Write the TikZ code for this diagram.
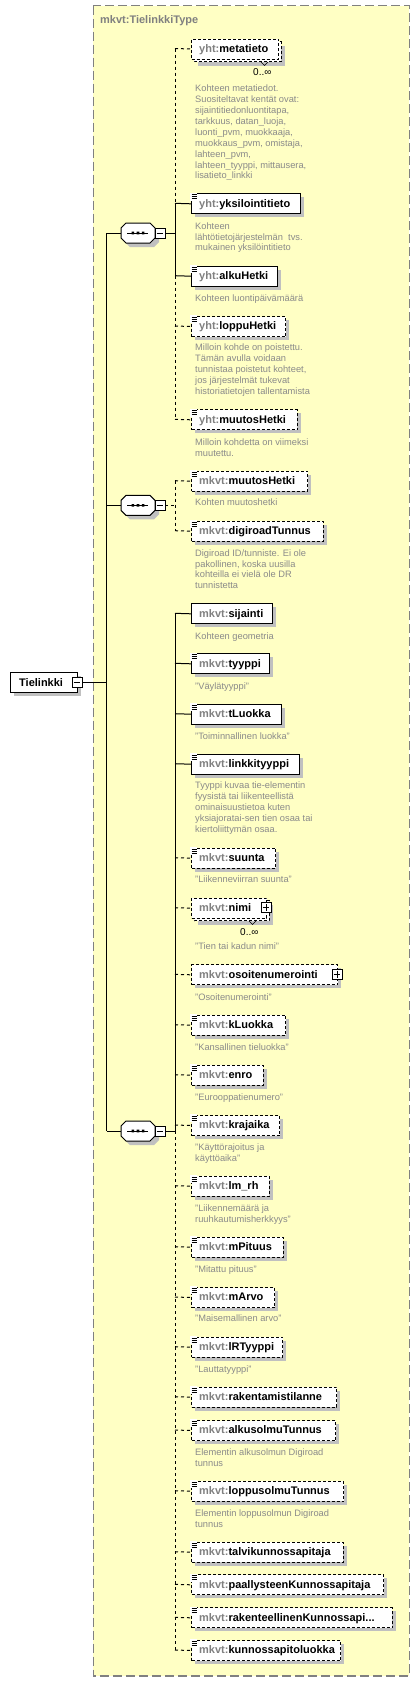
\documentclass[tikz,border=0pt]{standalone}
\usepackage{fontspec}
\setmainfont{Liberation Sans}
\definecolor{bgy}{HTML}{FFFFC4}
\definecolor{brd}{HTML}{808080}
\definecolor{shadowc}{HTML}{C0C0C0}
\definecolor{pfxc}{HTML}{808080}
\definecolor{docc}{HTML}{8A8A8A}
\tikzset{
  reqbox/.style={draw=black,line width=1pt,fill=white},
  optbox/.style={draw=black,line width=1pt,fill=white,dash pattern=on 3pt off 2pt},
  elbox/.style={anchor=north west,minimum height=20pt,inner sep=0pt},
  eltext/.style={anchor=base west,inner sep=0pt,font=\bfseries\fontsize{11}{13}\selectfont},
  doctext/.style={anchor=north west,inner sep=0pt,align=left,text=docc,font=\fontsize{9.3}{10.9}\selectfont},
  multtext/.style={anchor=base west,inner sep=0pt,font=\fontsize{10}{12}\selectfont},
  lnsolid/.style={line width=1pt},
  lndash/.style={line width=1pt,dash pattern=on 3pt off 3pt},
  pmbox/.style={draw,fill=white,line width=0.8pt,minimum size=10pt,inner sep=0pt},
  seqhit/.style={minimum width=34pt,minimum height=20pt,inner sep=0pt},
}
% element box: name, ytop, right, prefix, local name, style
\newcommand\xel[6]{%
  \fill[shadowc] (195,#2+4) rectangle (#3+4,#2+24);
  \node[elbox,#6,minimum width=#3-191] (#1) at (191,#2) {};
  \node[eltext] (#1t) at (199,#2+13.8) {\textcolor{pfxc}{#4:}#5};
}
% double (unbounded) element: name, ytop, right, prefix, local
\newcommand\xdbl[5]{%
  \fill[shadowc] (198,#2+7) rectangle (#3+7,#2+27);
  \draw[optbox] (194,#2+3) rectangle (#3+3,#2+23);
  \node[elbox,optbox,minimum width=#3-191] (#1) at (191,#2) {};
  \node[eltext] (#1t) at (199,#2+13.8) {\textcolor{pfxc}{#4:}#5};
}
\newcommand\xicon[1]{%
  \fill[white] (190.3,#1-0.6) rectangle (197.2,#1+7.2);
  \draw[line width=0.9pt] (191.5,#1+1.6) -- (196.8,#1+1.6) (191.5,#1+3.6) -- (196.8,#1+3.6) (191.5,#1+5.6) -- (196.8,#1+5.6);
}
\newcommand\xminus[3]{%
  \node[pmbox] (#1) at (#2,#3) {};
  \draw[line width=0.8pt] ([xshift=2pt]#1.west) -- ([xshift=-2pt]#1.east);
}
\newcommand\xplus[3]{%
  \node[pmbox] (#1) at (#2,#3) {};
  \draw[line width=0.8pt] ([xshift=2pt]#1.west) -- ([xshift=-2pt]#1.east) ([yshift=-2pt]#1.north) -- ([yshift=2pt]#1.south);
}
% sequence compositor: name, cx, cy
\newcommand\xseq[3]{%
  \fill[shadowc,shift={(#2+4,#3+4)}] (-12,-10) -- (12,-10) -- (17,-5) -- (17,5) -- (12,10) -- (-12,10) -- (-17,5) -- (-17,-5) -- cycle;
  \node[seqhit] (#1) at (#2,#3) {};
  \draw[line width=1pt,fill=white,shift={(#2,#3)}] (-12,-10) -- (12,-10) -- (17,-5) -- (17,5) -- (12,10) -- (-12,10) -- (-17,5) -- (-17,-5) -- cycle;
  \draw[line width=1pt,shift={(#2,#3)}] (-11,0) -- (10,0);
  \fill[shift={(#2,#3)}] (-6.4,-1.3) rectangle (-3.8,1.3) (-1.3,-1.3) rectangle (1.3,1.3) (3.8,-1.3) rectangle (6.4,1.3);
  \xminus{#1m}{#2+22}{#3}
}
\begin{document}
\begin{tikzpicture}[x=1pt,y=-1pt]
\useasboundingbox (0,0) rectangle (420,1682);
% outer type box
\draw[brd,fill=bgy,line width=1.2pt,dash pattern=on 9pt off 4pt] (93.3,5.7) rectangle (409.3,1676);
\node[anchor=base west,inner sep=0pt,text=brd,font=\bfseries\fontsize{11}{13}\selectfont] (title) at (100,23.3) {mkvt:TielinkkiType};

% root element
\fill[shadowc] (14,676) rectangle (81,696);
\node[reqbox,elbox,minimum width=67pt] (root) at (10,672) {};
\node[eltext] (roott) at (19,686) {Tielinkki};
\xminus{rootm}{77}{682}

% compositors
\xseq{s1}{138}{233}
\xseq{s2}{138}{505.3}
\xseq{s3}{138}{1131}

% main connectors
\coordinate (mt) at (106.7,233);
\coordinate (mm) at (106.7,682);
\coordinate (m2) at (106.7,505.3);
\coordinate (mb) at (106.7,1131);
\draw[lnsolid] (rootm.east) -- (mm);
\draw[lnsolid] (mt) -- (mb);
\draw[lnsolid] (mt) -- (s1.west);
\draw[lnsolid] (m2) -- (s2.west);
\draw[lnsolid] (mb) -- (s3.west);

% ---- group 1 ----
\xdbl{e1}{38.5}{278}{yht}{metatieto}
\draw[line width=0.6pt] (261,62) -- (264.5,65.5) -- (268,62);
\node[multtext] (mult1) at (253,75.7) {0..∞};
\node[doctext] (d1) at (195,84.8) {Kohteen metatiedot.\\Suositeltavat kentät ovat:\\sijaintitiedonluontitapa,\\tarkkuus, datan\_luoja,\\luonti\_pvm, muokkaaja,\\muokkaus\_pvm, omistaja,\\lahteen\_pvm,\\lahteen\_tyyppi, mittausera,\\lisatieto\_linkki};
\xel{e2}{193.3}{300}{yht}{yksilointitieto}{reqbox}\xicon{193.3}
\node[doctext] (d2) at (195,222.2) {Kohteen\\lähtötietojärjestelmän\ \ tvs.\\mukainen yksilöintitieto};
\xel{e3}{265.7}{276.7}{yht}{alkuHetki}{reqbox}\xicon{265.7}
\node[doctext] (d3) at (195,294.2) {Kohteen luontipäivämäärä};
\xel{e4}{316}{285}{yht}{loppuHetki}{optbox}\xicon{316}
\node[doctext] (d4) at (195,343.5) {Milloin kohde on poistettu.\\Tämän avulla voidaan\\tunnistaa poistetut kohteet,\\jos järjestelmät tukevat\\historiatietojen tallentamista};
\xel{e5}{409.3}{296.7}{yht}{muutosHetki}{optbox}\xicon{409.3}
\node[doctext] (d5) at (195,438.5) {Milloin kohdetta on viimeksi\\muutettu.};

\coordinate (b1) at (175,48.5);
\coordinate (b2) at (175,203.3);
\coordinate (b3) at (175,275.7);
\coordinate (b4) at (175,326);
\coordinate (b5) at (175,419.3);
\coordinate (j1) at (175,233);
\draw[lndash] (b1) -- (b2);
\draw[lnsolid] (b2) -- (b3);
\draw[lndash] (b3) -- (b5);
\draw[lnsolid] (s1m.east) -- (j1);
\draw[lndash] (b1) -- (e1.west);
\draw[lnsolid] (b2) -- (e2.west);
\draw[lnsolid] (b3) -- (e3.west);
\draw[lndash] (b4) -- (e4.west);
\draw[lndash] (b5) -- (e5.west);

% ---- group 2 ----
\xel{e6}{470.7}{307}{mkvt}{muutosHetki}{optbox}\xicon{470.7}
\node[doctext] (d6) at (195,498.8) {Kohten muutoshetki};
\xel{e7}{520.7}{322.7}{mkvt}{digiroadTunnus}{optbox}\xicon{520.7}
\node[doctext] (d7) at (195,549.2) {Digiroad ID/tunniste. Ei ole\\pakollinen, koska uusilla\\kohteilla ei vielä ole DR\\tunnistetta};
\coordinate (b6) at (175,480.7);
\coordinate (b7) at (175,530.7);
\coordinate (j2) at (175,505.3);
\draw[lndash] (b6) -- (b7);
\draw[lndash] (s2m.east) -- (j2);
\draw[lndash] (b6) -- (e6.west);
\draw[lndash] (b7) -- (e7.west);

% ---- group 3 ----
\xel{e8}{603.3}{272.3}{mkvt}{sijainti}{reqbox}
\node[doctext] (d8) at (195,632.2) {Kohteen geometria};
\xel{e9}{653.3}{269}{mkvt}{tyyppi}{reqbox}\xicon{653.3}
\node[doctext] (d9) at (195,682.5) {"Väylätyyppi"};
\xel{e10}{703.7}{281}{mkvt}{tLuokka}{reqbox}\xicon{703.7}
\node[doctext] (d10) at (195,732.2) {"Toiminnallinen luokka"};
\xel{e11}{753.7}{299.3}{mkvt}{linkkityyppi}{reqbox}\xicon{753.7}
\node[doctext] (d11) at (195,781.8) {Tyyppi kuvaa tie-elementin\\fyysistä tai liikenteellistä\\ominaisuustietoa kuten\\yksiajoratai-sen tien osaa tai\\kiertoliittymän osaa.};
\xel{e12}{847.7}{275}{mkvt}{suunta}{optbox}\xicon{847.7}
\node[doctext] (d12) at (195,875.8) {"Liikenneviirran suunta"};
\xdbl{e13}{897.7}{266}{mkvt}{nimi}
\xplus{e13p}{266}{907.7}
\draw[line width=0.6pt] (249,921) -- (252.5,924.5) -- (256,921);
\node[multtext] (mult13) at (240,935.3) {0..∞};
\node[doctext] (d13) at (195,942.5) {"Tien tai kadun nimi"};
\xel{e14}{964.3}{337}{mkvt}{osoitenumerointi}{optbox}
\xplus{e14p}{337}{974.3}
\node[doctext] (d14) at (195,993.2) {"Osoitenumerointi"};
\xel{e15}{1014.7}{285}{mkvt}{kLuokka}{optbox}\xicon{1014.7}
\node[doctext] (d15) at (195,1043.2) {"Kansallinen tieluokka"};
\xel{e16}{1064.7}{262.7}{mkvt}{enro}{optbox}\xicon{1064.7}
\node[doctext] (d16) at (195,1093.2) {"Eurooppatienumero"};
\xel{e17}{1115}{279.3}{mkvt}{krajaika}{optbox}\xicon{1115}
\node[doctext] (d17) at (195,1143.2) {"Käyttörajoitus ja\\käyttöaika"};
\xel{e18}{1175.7}{268.7}{mkvt}{lm\_rh}{optbox}\xicon{1175.7}
\node[doctext] (d18) at (195,1204.2) {"Liikennemäärä ja\\ruuhkautumisherkkyys"};
\xel{e19}{1236.7}{282.7}{mkvt}{mPituus}{optbox}\xicon{1236.7}
\node[doctext] (d19) at (195,1265.5) {"Mitattu pituus"};
\xel{e20}{1287}{274}{mkvt}{mArvo}{optbox}\xicon{1287}
\node[doctext] (d20) at (195,1314.5) {"Maisemallinen arvo"};
\xel{e21}{1336.7}{282}{mkvt}{lRTyyppi}{optbox}\xicon{1336.7}
\node[doctext] (d21) at (195,1365.5) {"Lauttatyyppi"};
\xel{e22}{1386.7}{336}{mkvt}{rakentamistilanne}{optbox}\xicon{1386.7}
\xel{e23}{1420}{335.3}{mkvt}{alkusolmuTunnus}{optbox}\xicon{1420}
\node[doctext] (d23) at (195,1448.2) {Elementin alkusolmun Digiroad\\tunnus};
\xel{e24}{1480.7}{343.3}{mkvt}{loppusolmuTunnus}{optbox}\xicon{1480.7}
\node[doctext] (d24) at (195,1509.2) {Elementin loppusolmun Digiroad\\tunnus};
\xel{e25}{1541.7}{342.7}{mkvt}{talvikunnossapitaja}{optbox}\xicon{1541.7}
\xel{e26}{1574.3}{383.3}{mkvt}{paallysteenKunnossapitaja}{optbox}\xicon{1574.3}
\xel{e27}{1607.3}{391.7}{mkvt}{rakenteellinenKunnossapi...}{optbox}\xicon{1607.3}
\xel{e28}{1640}{340}{mkvt}{kunnossapitoluokka}{optbox}\xicon{1640}

\coordinate (b8) at (175,613.3);
\coordinate (b9) at (175,663.3);
\coordinate (b10) at (175,713.7);
\coordinate (b11) at (175,763.7);
\coordinate (b12) at (175,857.7);
\coordinate (b13) at (175,907.7);
\coordinate (b14) at (175,974.3);
\coordinate (b15) at (175,1024.7);
\coordinate (b16) at (175,1074.7);
\coordinate (b17) at (175,1125);
\coordinate (b18) at (175,1185.7);
\coordinate (b19) at (175,1246.7);
\coordinate (b20) at (175,1297);
\coordinate (b21) at (175,1346.7);
\coordinate (b22) at (175,1396.7);
\coordinate (b23) at (175,1430);
\coordinate (b24) at (175,1490.7);
\coordinate (b25) at (175,1551.7);
\coordinate (b26) at (175,1584.3);
\coordinate (b27) at (175,1617.3);
\coordinate (b28) at (175,1650);
\coordinate (j3) at (175,1131);
\draw[lnsolid] (b8) -- (j3);
\draw[lndash] (j3) -- (b28);
\draw[lnsolid] (s3m.east) -- (j3);
\draw[lnsolid] (b8) -- (e8.west);
\draw[lnsolid] (b9) -- (e9.west);
\draw[lnsolid] (b10) -- (e10.west);
\draw[lnsolid] (b11) -- (e11.west);
\draw[lndash] (b12) -- (e12.west);
\draw[lndash] (b13) -- (e13.west);
\draw[lndash] (b14) -- (e14.west);
\draw[lndash] (b15) -- (e15.west);
\draw[lndash] (b16) -- (e16.west);
\draw[lndash] (b17) -- (e17.west);
\draw[lndash] (b18) -- (e18.west);
\draw[lndash] (b19) -- (e19.west);
\draw[lndash] (b20) -- (e20.west);
\draw[lndash] (b21) -- (e21.west);
\draw[lndash] (b22) -- (e22.west);
\draw[lndash] (b23) -- (e23.west);
\draw[lndash] (b24) -- (e24.west);
\draw[lndash] (b25) -- (e25.west);
\draw[lndash] (b26) -- (e26.west);
\draw[lndash] (b27) -- (e27.west);
\draw[lndash] (b28) -- (e28.west);
\end{tikzpicture}
\end{document}
